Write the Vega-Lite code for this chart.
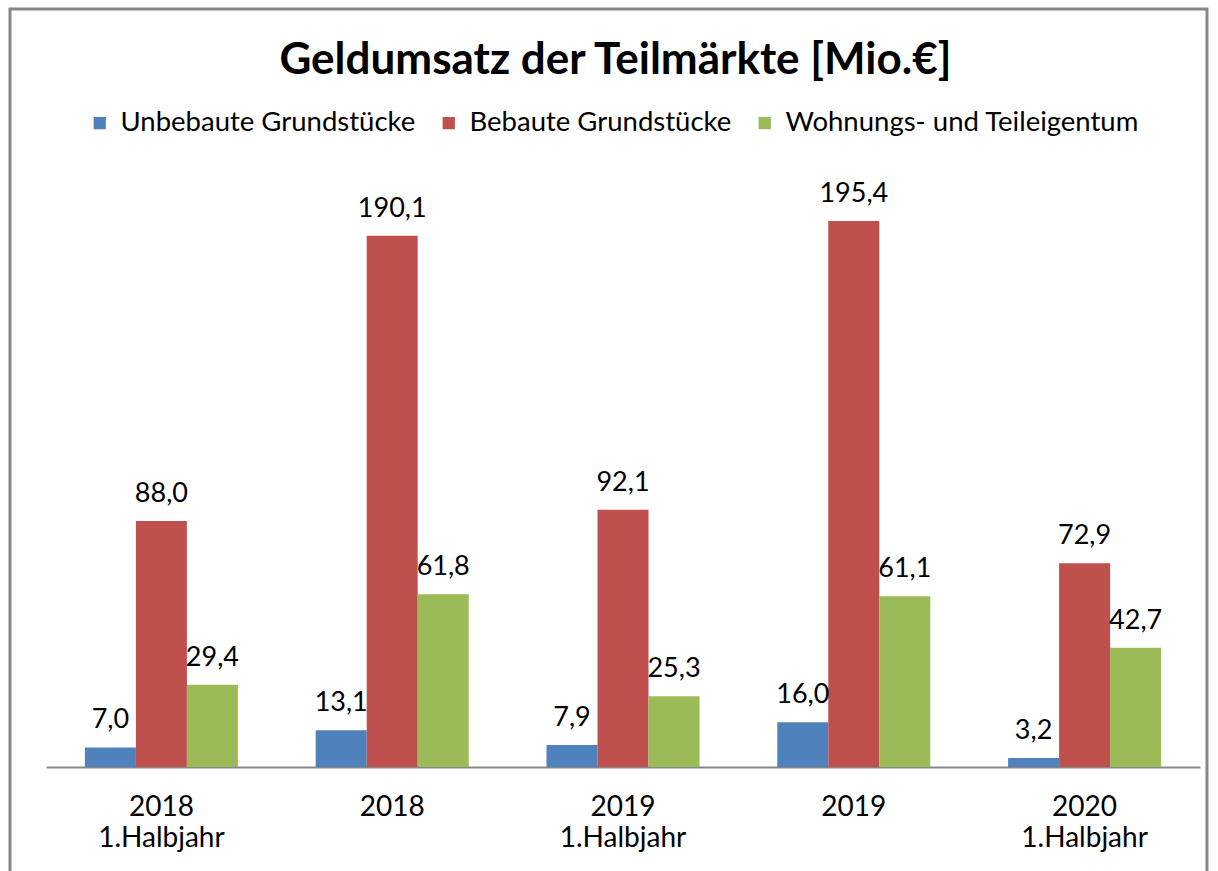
{
  "$schema": "https://vega.github.io/schema/vega-lite/v6.json",
  "width": 1197,
  "height": 870,
  "autosize": {"type": "none"},
  "padding": {"left": 10, "top": 9, "right": 11, "bottom": -8},
  "background": "white",
  "title": {
    "text": "Geldumsatz der Teilmärkte [Mio.€]",
    "anchor": "middle",
    "frame": "group",
    "orient": "top",
    "offset": -74,
    "dx": 7,
    "font": "Lato",
    "fontSize": 44,
    "fontWeight": "bold",
    "color": "black"
  },
  "data": {
    "values": [
      {"period": "2018|1.Halbjahr", "category": "Unbebaute Grundstücke", "value": 7.0},
      {"period": "2018|1.Halbjahr", "category": "Bebaute Grundstücke", "value": 88.0},
      {"period": "2018|1.Halbjahr", "category": "Wohnungs- und Teileigentum", "value": 29.4},
      {"period": "2018", "category": "Unbebaute Grundstücke", "value": 13.1},
      {"period": "2018", "category": "Bebaute Grundstücke", "value": 190.1},
      {"period": "2018", "category": "Wohnungs- und Teileigentum", "value": 61.8},
      {"period": "2019|1.Halbjahr", "category": "Unbebaute Grundstücke", "value": 7.9},
      {"period": "2019|1.Halbjahr", "category": "Bebaute Grundstücke", "value": 92.1},
      {"period": "2019|1.Halbjahr", "category": "Wohnungs- und Teileigentum", "value": 25.3},
      {"period": "2019", "category": "Unbebaute Grundstücke", "value": 16.0},
      {"period": "2019", "category": "Bebaute Grundstücke", "value": 195.4},
      {"period": "2019", "category": "Wohnungs- und Teileigentum", "value": 61.1},
      {"period": "2020|1.Halbjahr", "category": "Unbebaute Grundstücke", "value": 3.2},
      {"period": "2020|1.Halbjahr", "category": "Bebaute Grundstücke", "value": 72.9},
      {"period": "2020|1.Halbjahr", "category": "Wohnungs- und Teileigentum", "value": 42.7}
    ]
  },
  "encoding": {
    "x": {
      "field": "period",
      "type": "nominal",
      "sort": null,
      "scale": {"range": [36, 1190], "paddingInner": 0.337, "paddingOuter": 0.1685, "align": 0.5},
      "axis": {
        "title": null,
        "orient": "bottom",
        "offset": -112,
        "domainColor": "#868686",
        "domainWidth": 2,
        "ticks": false,
        "grid": false,
        "labelAngle": 0,
        "labelExpr": "split(datum.value, '|')",
        "labelFont": "Lato",
        "labelFontSize": 28,
        "labelColor": "black",
        "labelPadding": 26,
        "labelLineHeight": 31
      }
    },
    "xOffset": {
      "field": "category",
      "type": "nominal",
      "sort": ["Unbebaute Grundstücke", "Bebaute Grundstücke", "Wohnungs- und Teileigentum"]
    },
    "y": {
      "field": "value",
      "type": "quantitative",
      "scale": {"domain": [-40.1, 271.3], "nice": false, "zero": false},
      "axis": null
    }
  },
  "layer": [
    {
      "mark": {"type": "bar"},
      "encoding": {
        "y2": {"datum": 0},
        "color": {
          "field": "category",
          "type": "nominal",
          "scale": {
            "domain": ["Unbebaute Grundstücke", "Bebaute Grundstücke", "Wohnungs- und Teileigentum"],
            "range": ["#4F81BD", "#C0504D", "#9BBB59"]
          },
          "legend": {
            "title": null,
            "orient": "none",
            "legendX": 76,
            "legendY": 100,
            "direction": "horizontal",
            "symbolType": "square",
            "symbolSize": 150,
            "symbolStrokeWidth": 0,
            "labelFont": "Lato",
            "labelFontSize": 27.5,
            "labelColor": "black",
            "labelOffset": 7,
            "columnPadding": 19,
            "labelLimit": 600
          }
        }
      }
    },
    {
      "mark": {"type": "text", "font": "Lato", "fontSize": 27, "color": "black", "baseline": "alphabetic", "dy": -19, "align": "center"},
      "encoding": {
        "text": {"field": "value", "type": "quantitative", "format": ".1f"}
      }
    }
  ],
  "config": {
    "view": {"stroke": "#868686", "strokeWidth": 3},
    "locale": {"number": {"decimal": ",", "thousands": ".", "grouping": [3], "currency": ["", " €"]}}
  }
}
